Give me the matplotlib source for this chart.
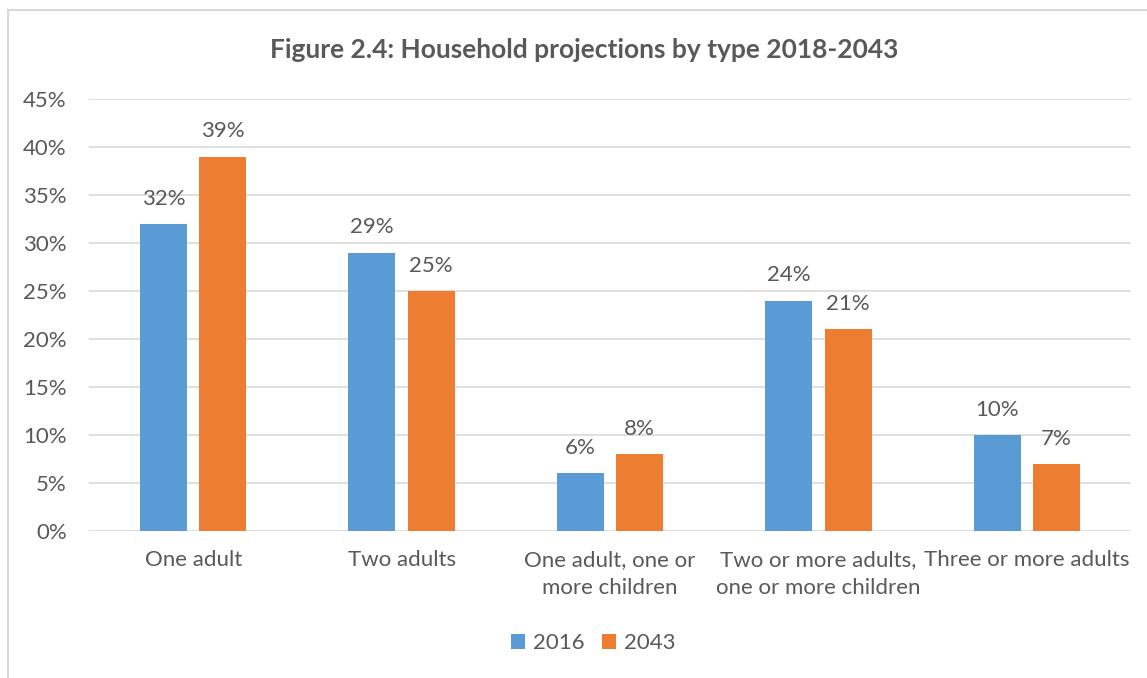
import matplotlib.pyplot as plt
import numpy as np
from matplotlib.patches import Rectangle

categories = ['One adult', 'Two adults', 'One adult, one or\nmore children',
              'Two or more adults,\none or more children', 'Three or more adults']
vals_2016 = [32, 29, 6, 24, 10]
vals_2043 = [39, 25, 8, 21, 7]
series_names = ['2016', '2043']

plt.rcParams['font.family'] = ['Lato', 'DejaVu Sans']
gray = '#595959'
blue = '#5B9BD5'
orange = '#ED7D31'
fs = 16

fig = plt.figure(figsize=(11.47, 6.78), dpi=100)
ax = fig.add_axes([89 / 1147, 147 / 678, 1042 / 1147, 432 / 678])

# chart border like the excel frame
fig.patches.append(Rectangle((8 / 1147, -0.1), 1.2, 0.1 + 668 / 678, transform=fig.transFigure,
                             fill=False, edgecolor='#D9D9D9', linewidth=1.5))

x = np.arange(len(categories))
w = 0.225
off = 0.1425
b1 = ax.bar(x - off, vals_2016, w, color=blue, label=series_names[0], zorder=3)
b2 = ax.bar(x + off, vals_2043, w, color=orange, label=series_names[1], zorder=3)

for bars, vals in [(b1, vals_2016), (b2, vals_2043)]:
    for r, v in zip(bars, vals):
        ax.annotate(f'{v}%', (r.get_x() + r.get_width() / 2, v), xytext=(0, 11),
                    textcoords='offset points', ha='center', va='bottom',
                    fontsize=fs, color=gray)

ax.set_xlim(-0.5, 4.5)
ax.set_ylim(0, 45)
ax.set_yticks(range(0, 46, 5))
ax.set_yticklabels([f'{t}%' for t in range(0, 46, 5)])
ax.set_xticks(x)
ax.set_xticklabels(categories, linespacing=1.45)
ax.tick_params(axis='both', length=0, labelsize=fs, labelcolor=gray)
ax.tick_params(axis='y', pad=16)
ax.tick_params(axis='x', pad=14)
ax.grid(axis='y', color='#D9D9D9', linewidth=1.2, zorder=0)
for s in ax.spines.values():
    s.set_visible(False)

fig.text(0.509, 1 - 50 / 678, 'Figure 2.4: Household projections by type 2018-2043',
         ha='center', va='center', fontsize=19, fontweight='bold', color=gray)

fig.legend(loc='center', bbox_to_anchor=(0.517, 1 - 643 / 678), ncol=2, frameon=False,
           fontsize=fs, labelcolor=gray, handlelength=0.65, handleheight=0.65,
           handletextpad=0.32, columnspacing=0.8)

fig.savefig('out.png', dpi=100)
